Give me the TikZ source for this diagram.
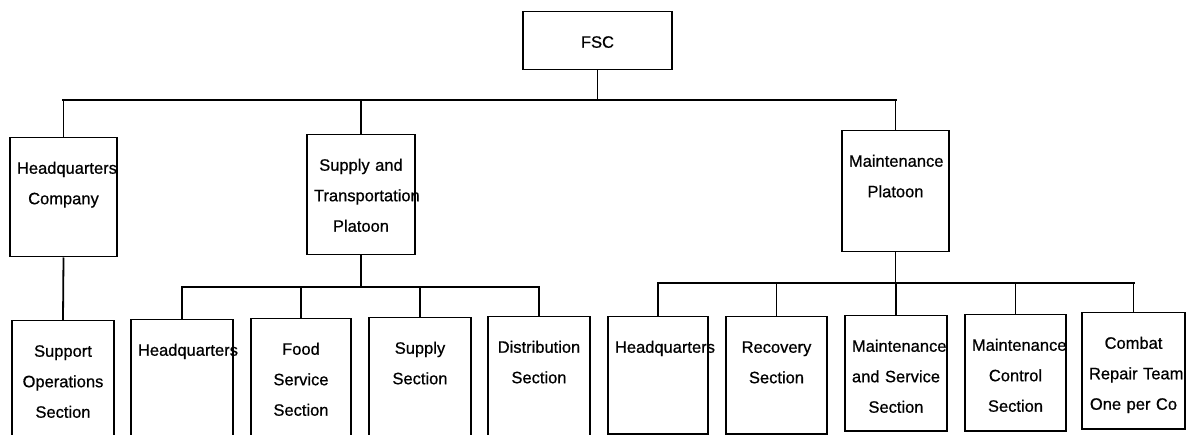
\documentclass[tikz,border=0pt]{standalone}
\usepackage{fontspec}
\setmainfont{Liberation Sans}[FakeBold=0.7]
\usepackage{tikz}
\usetikzlibrary{positioning}
\hyphenpenalty=10000
\exhyphenpenalty=10000

\begin{document}
\begin{tikzpicture}[x=1pt, y=-1pt,
    unit/.style={draw, line width=1.5pt, anchor=north, inner xsep=7pt, inner ysep=0pt,
        align=center, text height=36pt,
        font=\fontsize{16.5}{30.5}\selectfont},
    bus/.style={line width=2.8pt, line cap=rect},
    stem/.style={line width=1.8pt}]

\useasboundingbox (0,0) rectangle (1191,435);

% Coordinates of the three bus lines
\coordinate (topbus) at (0,100);
\coordinate (sbus) at (0,287);
\coordinate (mbus) at (0,283);

% Top unit
\node[unit, text width=135pt, text depth=22pt] (fsc) at (597.5,11) {FSC};

% Companies and platoons
\node[unit, text width=93pt, text depth=83pt] (hqco) at (63.5,137) {Headquarters\\Company};
\node[unit, text width=94pt, text depth=84pt] (supply) at (361,134) {Supply~and\\Transportation\\Platoon};
\node[unit, text width=93pt, text depth=85pt] (maint) at (895.5,130) {Maintenance\\Platoon};

% Sections
\node[unit, text width=88pt, text depth=84pt] (supops) at (63,320) {Support\\Operations\\Section};
\node[unit, text width=88pt, text depth=84pt] (shq) at (182,319) {Headquarters};
\node[unit, text width=86pt, text depth=84pt] (food) at (301,318) {Food\\Service\\Section};
\node[unit, text width=88pt, text depth=84pt] (ssup) at (420,317) {Supply\\Section};
\node[unit, text width=88pt, text depth=84pt] (dist) at (539,316) {Distribution\\Section};
\node[unit, text width=86pt, text depth=81pt] (mhq) at (658,316) {Headquarters};
\node[unit, text width=87pt, text depth=81pt] (recov) at (776.5,316) {Recovery\\Section};
\node[unit, text width=88pt, text depth=79pt] (mserv) at (896,315) {Maintenance\\and~Service\\Section};
\node[unit, text width=87pt, text depth=80pt] (mctrl) at (1015.5,314) {Maintenance\\Control\\Section};
\node[unit, text width=89pt, text depth=80pt] (crt) at (1133.5,312) {Combat\\Repair~Team\\One~per~Co};

% FSC to its companies
\draw[line width=1.3pt] (fsc.south) -- (fsc |- topbus);
\draw[bus] (hqco |- topbus) -- (maint |- topbus);
\foreach \n in {hqco, supply, maint}
    \draw[stem] (\n.north) -- (\n |- topbus);

% Headquarters Company
\draw[stem] (hqco.south) -- (supops.north);

% Supply and Transportation Platoon
\draw[stem] (supply.south) -- (supply |- sbus);
\draw[bus] (shq |- sbus) -- (dist |- sbus);
\foreach \n in {shq, food, ssup, dist}
    \draw[stem] (\n.north) -- (\n |- sbus);

% Maintenance Platoon
\draw[stem] (maint.south) -- (maint |- mbus);
\draw[bus] (mhq |- mbus) -- (crt |- mbus);
\foreach \n in {mhq, recov, mserv, mctrl, crt}
    \draw[stem] (\n.north) -- (\n |- mbus);

\end{tikzpicture}
\end{document}
